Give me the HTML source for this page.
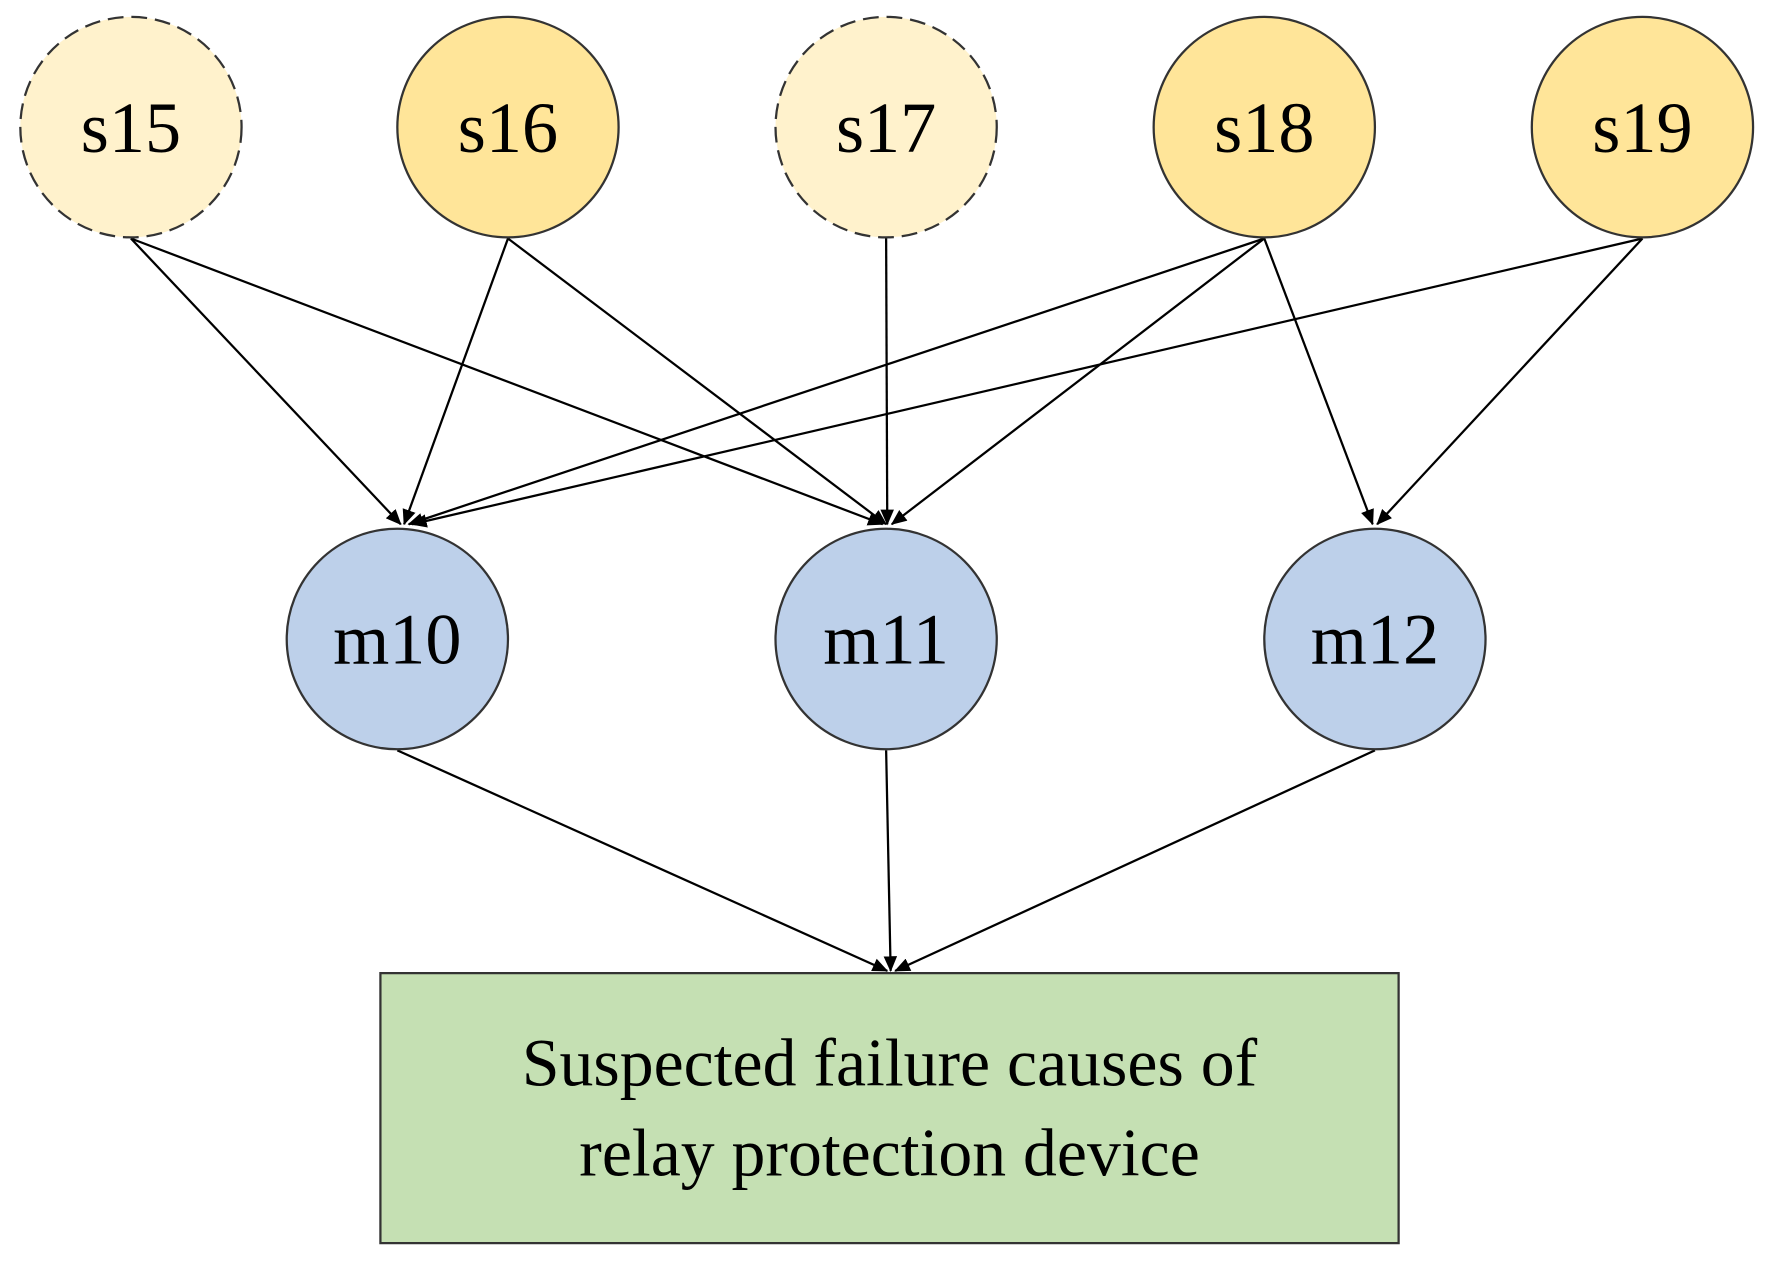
<!DOCTYPE html>
<html><head><meta charset="utf-8"><style>
html,body{margin:0;padding:0;background:#fff;}
svg{display:block;}
text{font-family:"Liberation Serif",serif;}
</style></head><body>
<svg width="1770" height="1269" viewBox="0 0 1568 1128" preserveAspectRatio="none" xmlns="http://www.w3.org/2000/svg">
<defs>
<marker id="a" markerWidth="14" markerHeight="12" refX="13" refY="6" orient="auto" markerUnits="userSpaceOnUse">
<path d="M0,0 L14,6 L0,12 z" fill="#000"/>
</marker>
</defs>
<g stroke="#000" stroke-width="2" fill="none" marker-end="url(#a)">
<line x1="116" y1="212" x2="355" y2="466"/>
<line x1="116" y1="212" x2="782" y2="466"/>
<line x1="450" y1="212" x2="358" y2="466"/>
<line x1="450" y1="212" x2="785" y2="466"/>
<line x1="785" y1="212" x2="786" y2="466"/>
<line x1="1120" y1="212" x2="362" y2="466"/>
<line x1="1120" y1="212" x2="790" y2="466"/>
<line x1="1120" y1="212" x2="1216" y2="466"/>
<line x1="1455" y1="212" x2="365" y2="466"/>
<line x1="1455" y1="212" x2="1220" y2="466"/>
<line x1="352" y1="667" x2="786" y2="863"/>
<line x1="785" y1="667" x2="789" y2="863"/>
<line x1="1218" y1="667" x2="793" y2="863"/>
</g>
<g stroke="#333" stroke-width="2">
<circle cx="116" cy="113" r="98" fill="#fff2cc" stroke-dasharray="14,7"/>
<circle cx="450" cy="113" r="98" fill="#ffe599"/>
<circle cx="785" cy="113" r="98" fill="#fff2cc" stroke-dasharray="14,7"/>
<circle cx="1120" cy="113" r="98" fill="#ffe599"/>
<circle cx="1455" cy="113" r="98" fill="#ffe599"/>
<circle cx="352" cy="568" r="98" fill="#bdd0ea"/>
<circle cx="785" cy="568" r="98" fill="#bdd0ea"/>
<circle cx="1218" cy="568" r="98" fill="#bdd0ea"/>
<rect x="337" y="865" width="902" height="240" fill="#c5e0b3"/>
</g>
<g font-size="64" text-anchor="middle" fill="#000">
<text x="116" y="135">s15</text>
<text x="450" y="135">s16</text>
<text x="785" y="135">s17</text>
<text x="1120" y="135">s18</text>
<text x="1455" y="135">s19</text>
<text x="352" y="590">m10</text>
<text x="785" y="590">m11</text>
<text x="1218" y="590">m12</text>
</g>
<g font-size="60" text-anchor="middle" fill="#000">
<text x="788" y="965">Suspected failure causes of</text>
<text x="788" y="1045">relay protection device</text>
</g>
</svg>
</body></html>
